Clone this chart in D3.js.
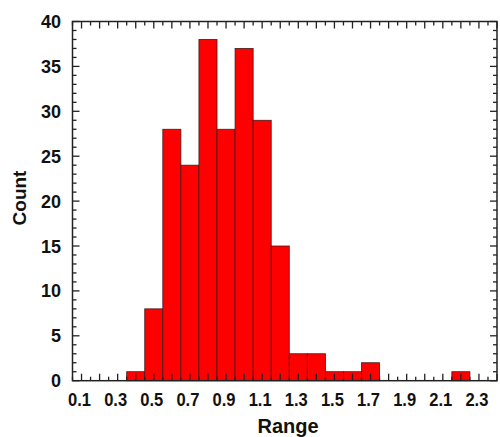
<!DOCTYPE html>
<html>
<head>
<meta charset="utf-8">
<script src="https://cdn.jsdelivr.net/npm/d3@7.9.0/dist/d3.min.js"></script>
<style>
  body { margin: 0; background: #fff; }
  svg text { font-family: "Liberation Sans", Arial, sans-serif; font-weight: bold; fill: #111; }
</style>
</head>
<body>
<svg id="chart" width="500" height="437"></svg>
<script>
// histogram bins (center of each 0.1-wide bin) and counts
const binCenters = [0.4, 0.5, 0.6, 0.7, 0.8, 0.9, 1.0, 1.1, 1.2, 1.3, 1.4, 1.5, 1.6, 1.7, 1.8, 1.9, 2.0, 2.1, 2.2];
const counts     = [1,   8,   28,  24,  38,  28,  37,  29,  15,  3,   3,   1,   1,   2,   0,   0,   0,   0,   1];
const binWidth = 0.1;

const xLabels = [0.1, 0.3, 0.5, 0.7, 0.9, 1.1, 1.3, 1.5, 1.7, 1.9, 2.1, 2.3];
const yLabels = [0, 5, 10, 15, 20, 25, 30, 35, 40];

const svg = d3.select('#chart');
const plotLeft = 72.5, plotRight = 497, plotTop = 21.5, plotBottom = 380.7;

const x = d3.scaleLinear().domain([0.05, 2.4]).range([plotLeft, plotRight]);
const y = d3.scaleLinear().domain([0, 40]).range([plotBottom, plotTop]);

const data = binCenters.map((c, i) => ({ c, n: counts[i] })).filter(d => d.n > 0);

// bars
svg.append('g')
  .selectAll('rect')
  .data(data)
  .join('rect')
  .attr('x', d => x(d.c - binWidth / 2))
  .attr('y', d => y(d.n))
  .attr('width', d => x(d.c + binWidth / 2) - x(d.c - binWidth / 2))
  .attr('height', d => y(0) - y(d.n))
  .attr('fill', '#ff0000')
  .attr('stroke', '#441a1a')
  .attr('stroke-width', 0.8);

// tick positions
const xMinor = d3.range(0.05, 2.401, 0.05).map(v => +v.toFixed(2));
const isMajorX = v => Math.abs(v * 10 - Math.round(v * 10)) < 1e-6;
const yMinor = d3.range(0, 41, 1);

function drawXTicks(y0, dir) {
  svg.append('g')
    .selectAll('line')
    .data(xMinor)
    .join('line')
    .attr('x1', d => x(d)).attr('x2', d => x(d))
    .attr('y1', y0)
    .attr('y2', d => y0 + dir * (isMajorX(d) ? 7 : 4))
    .attr('stroke', '#222').attr('stroke-width', 1.3);
}
function drawYTicks(x0, dir) {
  svg.append('g')
    .selectAll('line')
    .data(yMinor)
    .join('line')
    .attr('y1', d => y(d)).attr('y2', d => y(d))
    .attr('x1', x0)
    .attr('x2', d => x0 + dir * (d % 5 === 0 ? 7 : 4))
    .attr('stroke', '#222').attr('stroke-width', 1.3);
}
drawXTicks(plotBottom, -1);
drawXTicks(plotTop, 1);
drawYTicks(plotLeft, 1);
drawYTicks(plotRight, -1);

// frame
svg.append('rect')
  .attr('x', plotLeft).attr('y', plotTop)
  .attr('width', plotRight - plotLeft).attr('height', plotBottom - plotTop)
  .attr('fill', 'none').attr('stroke', '#222').attr('stroke-width', 1.5);

// x tick labels
svg.append('g')
  .selectAll('text')
  .data(xLabels)
  .join('text')
  .attr('x', d => x(d) - 2)
  .attr('y', plotBottom + 25)
  .attr('text-anchor', 'middle')
  .attr('font-size', 19)
  .attr('textLength', 23)
  .attr('lengthAdjust', 'spacingAndGlyphs')
  .text(d => d.toFixed(1));

// y tick labels
svg.append('g')
  .selectAll('text')
  .data(yLabels)
  .join('text')
  .attr('x', 61)
  .attr('y', d => y(d) + 6.5)
  .attr('text-anchor', 'end')
  .attr('font-size', 18)
  .text(d => d);

// axis titles
svg.append('text')
  .attr('x', 288).attr('y', 433)
  .attr('text-anchor', 'middle')
  .attr('font-size', 20)
  .text('Range');

svg.append('text')
  .attr('transform', 'translate(26,198) rotate(-90)')
  .attr('text-anchor', 'middle')
  .attr('font-size', 19)
  .text('Count');
</script>
</body>
</html>
